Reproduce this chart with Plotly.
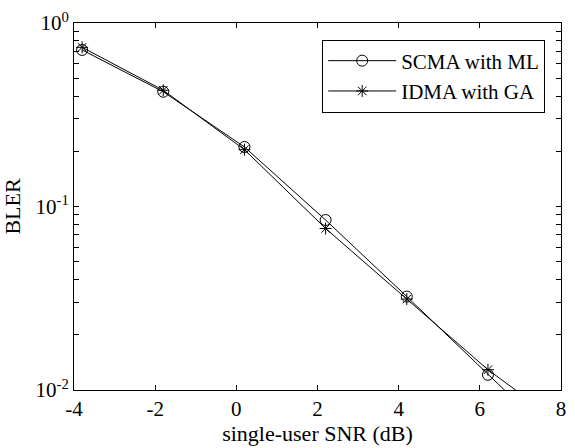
import plotly.graph_objects as go

# SNR points (dB) and block error rates for each receiver
snr_db = [-3.8, -1.8, 0.2, 2.2, 4.2, 6.2, 8.2]
bler_scma_ml = [0.713, 0.422, 0.211, 0.0844, 0.0323, 0.0121, 0.0046]
bler_idma_ga = [0.737, 0.430, 0.204, 0.0759, 0.0313, 0.0129, 0.0061]

x_tick_vals = [-4, -2, 0, 2, 4, 6, 8]
x_tick_text = ["-4", "-2", "0", "2", "4", "6", "8"]
y_tick_vals = [1e-2, 1e-1, 1e0]
y_tick_text = ["10<sup>-2</sup>", "10<sup>-1</sup>", "10<sup>0</sup>"]
y_minor_vals = [m * 10.0 ** e for e in (-2, -1) for m in range(2, 10)]

font_family = "Liberation Serif"

fig = go.Figure()
fig.add_trace(go.Scatter(
    x=snr_db, y=bler_scma_ml, name="SCMA with ML", mode="lines+markers",
    line=dict(color="black", width=1),
    marker=dict(symbol="circle-open", size=11, color="black", line=dict(width=1)),
))
fig.add_trace(go.Scatter(
    x=snr_db, y=bler_idma_ga, name="IDMA with GA", mode="lines+markers",
    line=dict(color="black", width=1),
    marker=dict(symbol="asterisk-open", size=10, color="black", line=dict(width=1)),
))

axis_common = dict(
    showline=True, linecolor="black", linewidth=1, mirror="allticks",
    ticks="inside", ticklen=5, tickcolor="black", tickwidth=1,
    showgrid=False, zeroline=False,
    tickfont=dict(family=font_family, size=21, color="black"),
)

fig.update_xaxes(
    range=[-4, 8], tickmode="array", tickvals=x_tick_vals, ticktext=x_tick_text,
    title=dict(text="single-user SNR (dB)", font=dict(family=font_family, size=22, color="black"), standoff=2),
    **axis_common,
)
fig.update_yaxes(
    type="log", range=[-2, 0], tickmode="array", tickvals=y_tick_vals, ticktext=y_tick_text,
    minor=dict(tickmode="array", tickvals=y_minor_vals, ticks="inside", ticklen=5,
               tickcolor="black", tickwidth=1, showgrid=False),
    title=dict(text="BLER", font=dict(family=font_family, size=22, color="black"), standoff=10),
    **axis_common,
)

fig.update_layout(
    width=575, height=448,
    margin=dict(l=74, r=9, t=20, b=55),
    paper_bgcolor="white", plot_bgcolor="white",
    showlegend=True,
    legend=dict(
        x=0.9675, y=0.955, xanchor="right", yanchor="top",
        bgcolor="white", bordercolor="black", borderwidth=1,
        font=dict(family=font_family, size=21, color="black"),
        tracegroupgap=0, itemwidth=68,
    ),
)

fig.write_html("out.html")
